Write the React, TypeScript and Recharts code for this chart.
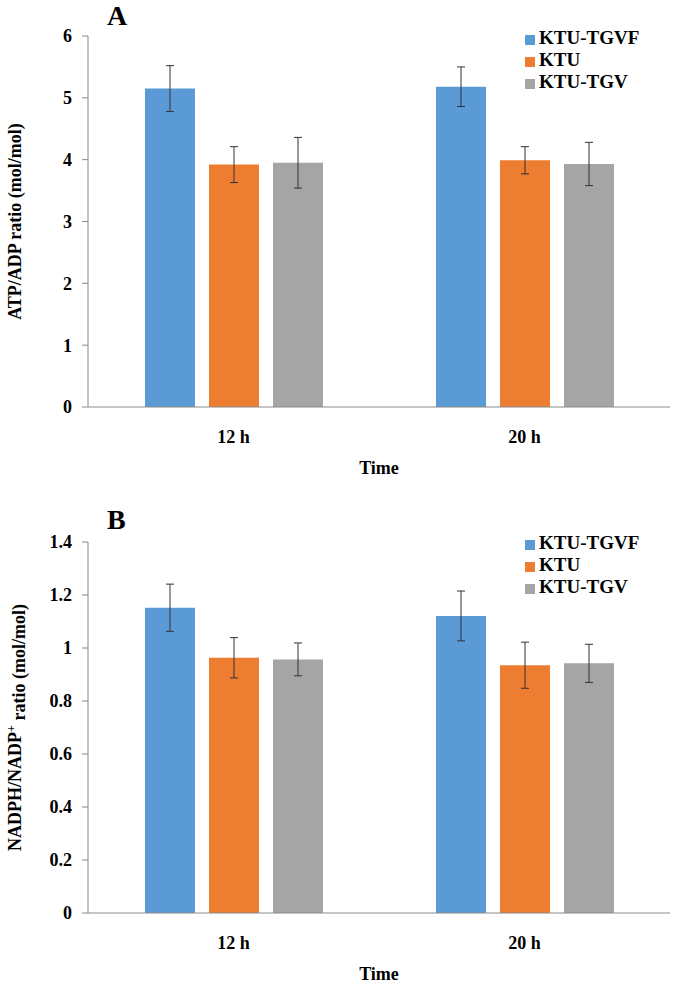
import React from 'react';
import { BarChart, Bar, XAxis, YAxis, Legend, ErrorBar } from 'recharts';

const categories = ['12 h', '20 h'];
const seriesNames = ['KTU-TGVF', 'KTU', 'KTU-TGV'];
const seriesColors = ['#5B9BD5', '#ED7D31', '#A5A5A5'];

// panel A: ATP/ADP
const atpTgvf = [5.15, 5.18];
const atpTgvfErr = [0.37, 0.32];
const atpKtu = [3.92, 3.99];
const atpKtuErr = [0.29, 0.22];
const atpTgv = [3.95, 3.93];
const atpTgvErr = [0.41, 0.35];
const atpTicks = [0, 1, 2, 3, 4, 5, 6];

// panel B: NADPH/NADP+
const nadTgvf = [1.152, 1.121];
const nadTgvfErr = [0.089, 0.094];
const nadKtu = [0.963, 0.935];
const nadKtuErr = [0.076, 0.087];
const nadTgv = [0.957, 0.942];
const nadTgvErr = [0.062, 0.072];
const nadTicks = [0, 0.2, 0.4, 0.6, 0.8, 1, 1.2, 1.4];

const buildRows = (a: number[], ae: number[], b: number[], be: number[], c: number[], ce: number[]) =>
  categories.map((time, i) => ({
    time,
    s0: a[i], e0: ae[i],
    s1: b[i], e1: be[i],
    s2: c[i], e2: ce[i],
  }));

const atpData = buildRows(atpTgvf, atpTgvfErr, atpKtu, atpKtuErr, atpTgv, atpTgvErr);
const nadData = buildRows(nadTgvf, nadTgvfErr, nadKtu, nadKtuErr, nadTgv, nadTgvErr);

const FONT = '"Liberation Serif", "Times New Roman", serif';
const AXIS = '#8a8a8a';
const tickStyle = { fontFamily: FONT, fontSize: 18, fontWeight: 700, fill: '#000' };

const yLabel = (kind: 'atp' | 'nad') => (props: any) => {
  const vb = props.viewBox || {};
  const cx = 15;
  const cy = vb.y + vb.height / 2;
  return (
    <text
      x={cx}
      y={cy}
      dy="0.35em"
      textAnchor="middle"
      transform={`rotate(-90, ${cx}, ${cy})`}
      style={{ fontFamily: FONT, fontSize: 18, fontWeight: 700, fill: '#000' }}
    >
      {kind === 'atp' ? (
        'ATP/ADP ratio (mol/mol)'
      ) : (
        <>
          NADPH/NADP
          <tspan dy="-0.55em" fontSize={12}>+</tspan>
          <tspan dy="0.55em"> ratio (mol/mol)</tspan>
        </>
      )}
    </text>
  );
};

interface PanelProps {
  data: any[];
  ticks: number[];
  kind: 'atp' | 'nad';
  letter: string;
  top: number;
  height: number;
  marginTop: number;
  marginBottom: number;
  legendTop: number;
  letterTop: number;
}

const Panel = ({ data, ticks, kind, letter, top, height, marginTop, marginBottom, legendTop, letterTop }: PanelProps) => (
  <div style={{ position: 'absolute', left: 0, top, width: 675, height }}>
    <BarChart
      width={675}
      height={height}
      data={data}
      margin={{ top: marginTop, right: 5, left: 0, bottom: marginBottom }}
      barGap={14}
      barSize={50}
    >
      <XAxis
        dataKey="time"
        height={70}
        stroke={AXIS}
        tickLine={false}
        tickMargin={17}
        tick={tickStyle}
        label={{
          value: 'Time',
          position: 'insideBottom',
          offset: 3,
          style: { fontFamily: FONT, fontSize: 18, fontWeight: 700, fill: '#000' },
        }}
      />
      <YAxis
        width={88}
        domain={[ticks[0], ticks[ticks.length - 1]]}
        ticks={ticks}
        interval={0}
        stroke={AXIS}
        tickSize={6}
        tickMargin={10}
        tick={tickStyle}
        label={{ content: yLabel(kind) }}
      />
      <Legend
        layout="vertical"
        align="center"
        verticalAlign="middle"
        iconType="square"
        iconSize={10}
        itemSorter="dataKey"
        wrapperStyle={{ left: 525, top: legendTop, width: 150 }}
        formatter={(value: string) => (
          <span style={{ color: '#000', fontFamily: FONT, fontSize: 19, fontWeight: 700 }}>{value}</span>
        )}
      />
      {seriesNames.map((name, i) => (
        <Bar key={name} dataKey={`s${i}`} name={name} fill={seriesColors[i]} isAnimationActive={false}>
          <ErrorBar dataKey={`e${i}`} width={4} stroke="#333" strokeWidth={1} direction="y" isAnimationActive={false} />
        </Bar>
      ))}
    </BarChart>
    <div
      style={{
        position: 'absolute',
        left: 107,
        top: letterTop,
        fontFamily: FONT,
        fontSize: 28,
        fontWeight: 700,
        lineHeight: '32px',
        color: '#000',
      }}
    >
      {letter}
    </div>
  </div>
);

export default function App() {
  return (
    <div style={{ position: 'absolute', left: 0, top: 0, width: 675, height: 986, background: '#fff' }}>
      <Panel data={atpData} ticks={atpTicks} kind="atp" letter="A" top={0} height={490} marginTop={36} marginBottom={13} legendTop={27} letterTop={0} />
      <Panel data={nadData} ticks={nadTicks} kind="nad" letter="B" top={495} height={491} marginTop={47} marginBottom={3} legendTop={37} letterTop={9} />
    </div>
  );
}
